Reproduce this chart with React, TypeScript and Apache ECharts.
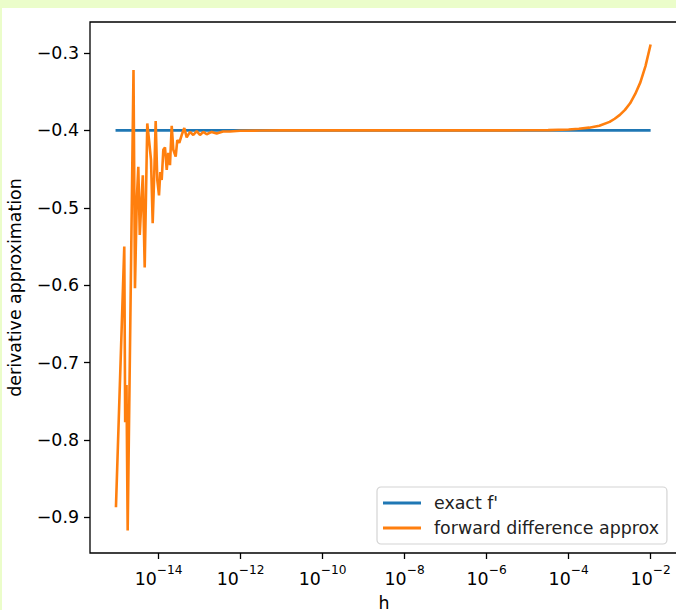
import React, { useEffect, useRef } from "react";
import * as echarts from "echarts";

// exponent of h (log10 h) and forward-difference approximation
const fdExp = [-15.04, -14.837, -14.815, -14.783, -14.754, -14.612, -14.576, -14.532, -14.495, -14.459,
  -14.422, -14.385, -14.339, -14.276, -14.227, -14.185, -14.144, -14.105, -14.071, -14.032,
  -13.99, -13.959, -13.924, -13.885, -13.844, -13.802, -13.763, -13.722, -13.68, -13.641,
  -13.583, -13.544, -13.495, -13.437, -13.373, -13.315, -13.234, -13.154, -13.071, -12.99,
  -12.91, -12.827, -12.705, -12.583, -12.429, -12.259, -12.015, -11.5, -11, -10,
  -9, -8, -7, -6, -5.5, -5, -4.5, -4, -3.75, -3.5,
  -3.25, -3, -2.875, -2.75, -2.625, -2.5, -2.375, -2.25, -2.125, -2];
const fdVal = [-0.887, -0.55, -0.777, -0.729, -0.917, -0.322, -0.604, -0.49, -0.447, -0.535,
  -0.494, -0.458, -0.577, -0.391, -0.416, -0.438, -0.52, -0.455, -0.388, -0.464,
  -0.484, -0.454, -0.464, -0.425, -0.422, -0.451, -0.429, -0.445, -0.394, -0.425,
  -0.434, -0.4125, -0.416, -0.406, -0.397, -0.409, -0.402, -0.406, -0.401, -0.406,
  -0.402, -0.405, -0.402, -0.404, -0.4015, -0.4015, -0.4005, -0.4002, -0.4, -0.4,
  -0.4, -0.4, -0.4, -0.4, -0.4, -0.3999, -0.3997, -0.3989, -0.398, -0.3965,
  -0.394, -0.389, -0.385, -0.38, -0.3735, -0.365, -0.353, -0.338, -0.317, -0.289];

const exactExp = [-15.05, -2];
const exactVal = [-0.4, -0.4];

const xTickExps = [-14, -12, -10, -8, -6, -4, -2];
const yTicks = [-0.9, -0.8, -0.7, -0.6, -0.5, -0.4, -0.3];

const seriesNames = ["exact f'", "forward difference approx"];

const FONT = "DejaVu Sans";

export default function App() {
  const ref = useRef<HTMLDivElement>(null);
  useEffect(() => {
    document.body.style.margin = "0";
    const chart = echarts.init(ref.current!, null, { renderer: "svg" });
    const fdData = fdExp.map((e, i) => [e, fdVal[i]]);
    const exactData = exactExp.map((e, i) => [e, exactVal[i]]);
    chart.setOption({
      animation: false,
      backgroundColor: "#ffffff",
      grid: {
        left: 88, top: 14, width: 588, height: 531,
        show: true, borderColor: "#000", borderWidth: 1.3, backgroundColor: "#fff",
        containLabel: false, outerBoundsMode: "none",
      },
      legend: {
        orient: "vertical",
        left: 375, top: 479,
        padding: [7, 8, 7, 6],
        itemGap: 7,
        itemWidth: 38, itemHeight: 3,
        icon: "rect",
        backgroundColor: "#fff",
        borderColor: "#d4d4d4", borderWidth: 1.2, borderRadius: 4,
        textStyle: { fontFamily: FONT, fontSize: 17.4, color: "#222", lineHeight: 18, padding: [0, 0, 0, 8] },
        data: seriesNames,
      },
      xAxis: {
        type: "value",
        min: -15.673, max: -1.332,
        name: "h", nameLocation: "middle", nameGap: 41,
        nameTextStyle: { fontFamily: FONT, fontSize: 17.4, color: "#000" },
        axisLine: { show: false },
        splitLine: { show: false },
        axisTick: { show: true, customValues: xTickExps, length: 6, lineStyle: { color: "#000", width: 1.3 } },
        axisLabel: {
          customValues: xTickExps,
          margin: 11,
          formatter: (v: number) => `{b|10}{s|\u2212${Math.abs(Math.round(v))}}`,
          rich: {
            b: { fontFamily: FONT, fontSize: 17.4, color: "#000", verticalAlign: "bottom", lineHeight: 23 },
            s: { fontFamily: FONT, fontSize: 12.2, color: "#000", verticalAlign: "top", lineHeight: 12 },
          },
        },
      },
      yAxis: {
        type: "value",
        min: -0.946, max: -0.26,
        name: "derivative approximation", nameLocation: "middle", nameGap: 67,
        nameTextStyle: { fontFamily: FONT, fontSize: 17.4, color: "#000" },
        axisLine: { show: false },
        splitLine: { show: false },
        axisTick: { show: true, customValues: yTicks, length: 6, lineStyle: { color: "#000", width: 1.3 } },
        axisLabel: {
          customValues: yTicks,
          margin: 11,
          fontFamily: FONT, fontSize: 17.4, color: "#000",
          formatter: (v: number) => (v < 0 ? "\u2212" : "") + Math.abs(v).toFixed(1),
        },
      },
      series: [
        {
          name: seriesNames[0], type: "line", data: exactData, showSymbol: false,
          color: "#1f77b4", lineStyle: { color: "#1f77b4", width: 2.6 },
        },
        {
          name: seriesNames[1], type: "line", data: fdData, showSymbol: false,
          color: "#ff7f0e", lineStyle: { color: "#ff7f0e", width: 2.6 },
        },
      ],
    });
    return () => chart.dispose();
  }, []);
  return (
    <div style={{ position: "fixed", left: 0, top: 0, width: 676, height: 610, background: "#ebfdca", overflow: "hidden" }}>
      <div style={{ position: "absolute", left: 2, top: 8, width: 674, height: 602, background: "#fff" }}>
        <div ref={ref} style={{ width: 674, height: 602 }} />
      </div>
    </div>
  );
}
